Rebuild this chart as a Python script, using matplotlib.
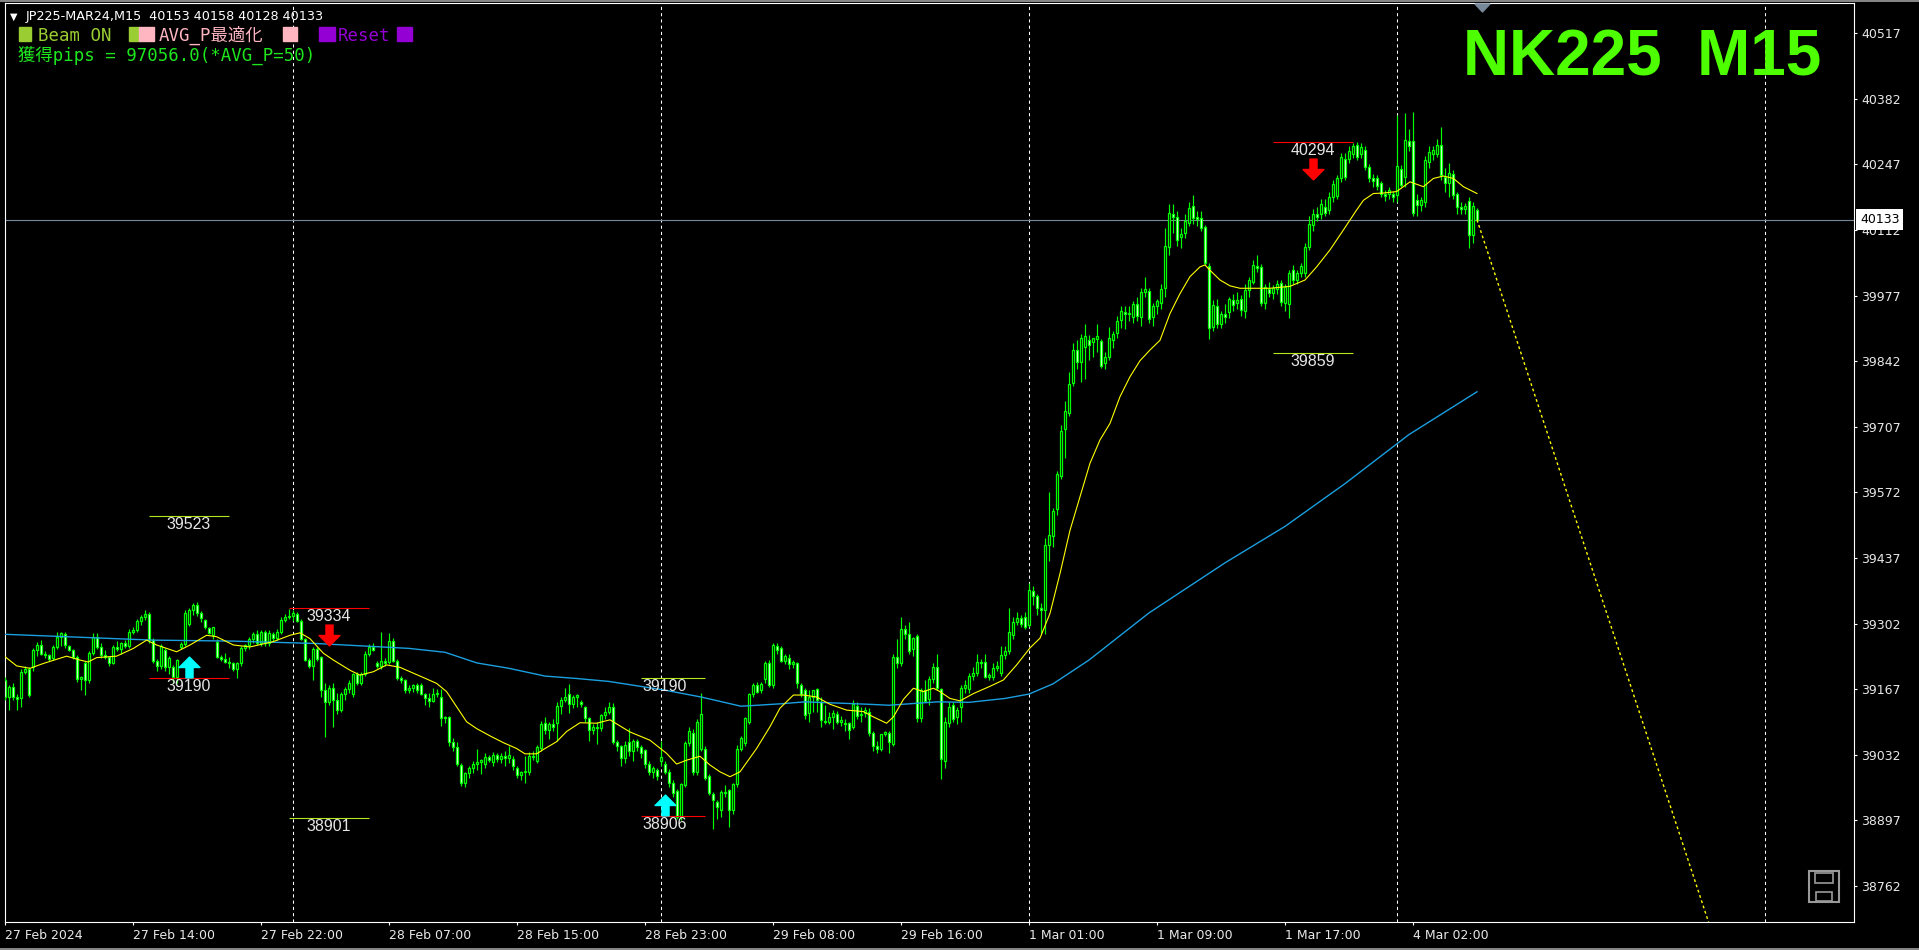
import numpy as np
import matplotlib
matplotlib.use("Agg")
import matplotlib.pyplot as plt
from matplotlib.path import Path
from matplotlib.patches import Rectangle, Polygon
from matplotlib.lines import Line2D
import matplotlib.transforms as mtransforms

W, H = 1919, 950

# ---------------- data (JP225-MAR24, M15) ----------------
opens = [
    39186, 39150, 39172, 39152, 39148, 39203, 39209, 39213, 39247, 39258,
    39240, 39237, 39232, 39254, 39275, 39280, 39256, 39248, 39234, 39188,
    39220, 39186, 39241, 39275, 39254, 39238, 39234, 39220, 39254, 39250,
    39262, 39256, 39285, 39289, 39307, 39316, 39322, 39268, 39225, 39215,
    39248, 39213, 39213, 39193, 39254, 39261, 39302, 39330, 39340, 39323,
    39310, 39292, 39278, 39265, 39234, 39230, 39224, 39220, 39209, 39220,
    39251, 39257, 39271, 39280, 39262, 39284, 39262, 39280, 39272, 39285,
    39310, 39316, 39318, 39322, 39308, 39270, 39228, 39215, 39250, 39234,
    39165, 39140, 39170, 39145, 39125, 39158, 39168, 39158, 39198, 39180,
    39198, 39240, 39254, 39220, 39214, 39226, 39222, 39266, 39226, 39190,
    39185, 39165, 39170, 39175, 39176, 39158, 39148, 39143, 39158, 39152,
    39107, 39110, 39059, 39049, 39012, 38973, 38994, 39004, 39014, 39018,
    39014, 39028, 39018, 39032, 39024, 39030, 39026, 39024, 39004, 38990,
    38996, 38996, 39030, 39020, 39046, 39097, 39083, 39095, 39097, 39132,
    39145, 39158, 39136, 39150, 39140, 39130, 39107, 39084, 39089, 39087,
    39114, 39120, 39130, 39059, 39050, 39025, 39058, 39040, 39060, 39048,
    39042, 39014, 38997, 39000, 39020, 39014, 38997, 38975, 38958, 38905,
    38970, 39056, 39077, 38997, 39045, 39045, 38988, 38951, 38935, 38918,
    38956, 38959, 38918, 38972, 39045, 39056, 39100, 39158, 39176, 39165,
    39188, 39221, 39175, 39256, 39251, 39226, 39232, 39219, 39220, 39176,
    39165, 39119, 39151, 39167, 39141, 39101, 39100, 39109, 39116, 39100,
    39098, 39097, 39090, 39133, 39114, 39119, 39120, 39077, 39050, 39045,
    39075, 39076, 39055, 39234, 39220, 39290, 39280, 39249, 39276, 39107,
    39165, 39146, 39189, 39212, 39167, 39020, 39097, 39134, 39109, 39131,
    39169, 39167, 39194, 39200, 39224, 39222, 39193, 39193, 39211, 39200,
    39238, 39246, 39278, 39306, 39313, 39315, 39300, 39370, 39358, 39335,
    39330, 39464, 39482, 39537, 39605, 39702, 39735, 39797, 39866, 39840,
    39872, 39885, 39882, 39888, 39884, 39838, 39850, 39885, 39899, 39926,
    39944, 39940, 39933, 39960, 39932, 39984, 39987, 39932, 39955, 39962,
    39992, 40077, 40145, 40138, 40098, 40105, 40127, 40161, 40138, 40136,
    40119, 40038, 39913, 39955, 39918, 39939, 39944, 39968, 39962, 39969,
    39946, 39988, 40004, 40038, 40036, 39962, 39990, 39983, 39990, 40002,
    39961, 39959, 40029, 40009, 40024, 40024, 40077, 40122, 40145, 40145,
    40160, 40154, 40179, 40182, 40218, 40259, 40257, 40269, 40287, 40269,
    40276, 40242, 40219, 40219, 40209, 40187, 40187, 40186, 40184, 40237,
    40221, 40296, 40296, 40173, 40163, 40170, 40252, 40269, 40269, 40287,
    40221, 40209, 40227, 40186, 40160, 40156, 40172, 40101, 40153,
]
highs = [
    39193, 39176, 39180, 39158, 39208, 39215, 39212, 39252, 39265, 39268,
    39246, 39240, 39258, 39285, 39285, 39284, 39258, 39250, 39238, 39195,
    39225, 39245, 39282, 39282, 39262, 39248, 39236, 39258, 39266, 39264,
    39268, 39290, 39294, 39312, 39320, 39330, 39326, 39272, 39230, 39260,
    39252, 39236, 39216, 39230, 39265, 39330, 39335, 39345, 39346, 39328,
    39312, 39295, 39296, 39270, 39238, 39242, 39234, 39222, 39222, 39255,
    39260, 39275, 39285, 39288, 39288, 39288, 39288, 39284, 39290, 39315,
    39322, 39333, 39330, 39326, 39312, 39272, 39232, 39254, 39254, 39236,
    39180, 39175, 39180, 39160, 39162, 39172, 39185, 39200, 39202, 39202,
    39245, 39260, 39262, 39225, 39285, 39232, 39282, 39272, 39230, 39195,
    39188, 39175, 39178, 39180, 39180, 39160, 39160, 39170, 39168, 39168,
    39112, 39112, 39066, 39058, 39015, 38996, 39010, 39020, 39045, 39024,
    39035, 39032, 39038, 39036, 39035, 39040, 39050, 39030, 39008, 38998,
    39030, 39038, 39040, 39052, 39102, 39110, 39100, 39105, 39140, 39150,
    39170, 39178, 39155, 39158, 39145, 39132, 39110, 39095, 39100, 39115,
    39130, 39140, 39138, 39062, 39052, 39060, 39088, 39065, 39064, 39052,
    39045, 39020, 39010, 39005, 39060, 39020, 39002, 38980, 38962, 38975,
    39060, 39090, 39085, 39105, 39159, 39050, 38992, 38955, 38940, 38960,
    38970, 38962, 38975, 39052, 39070, 39110, 39160, 39180, 39182, 39182,
    39225, 39228, 39262, 39262, 39255, 39240, 39240, 39228, 39224, 39180,
    39170, 39165, 39165, 39170, 39150, 39135, 39120, 39125, 39122, 39112,
    39105, 39100, 39145, 39140, 39130, 39130, 39128, 39080, 39060, 39075,
    39080, 39080, 39240, 39270, 39315, 39300, 39305, 39275, 39280, 39170,
    39185, 39195, 39220, 39240, 39170, 39110, 39140, 39140, 39130, 39175,
    39185, 39200, 39212, 39240, 39230, 39240, 39200, 39220, 39225, 39255,
    39255, 39335, 39315, 39325, 39320, 39325, 39385, 39380, 39362, 39345,
    39478, 39573, 39540, 39615, 39710, 39760, 39820, 39880, 39885, 39898,
    39918, 39895, 39890, 39918, 39888, 39860, 39912, 39905, 39935, 39955,
    39955, 39955, 39965, 39975, 39992, 40015, 39992, 39962, 39970, 40000,
    40115, 40165, 40165, 40150, 40115, 40145, 40170, 40184, 40150, 40150,
    40122, 40045, 39968, 39970, 39945, 39960, 39975, 39980, 39985, 39978,
    40000, 40015, 40050, 40060, 40042, 40000, 40005, 39998, 40010, 40008,
    40000, 40030, 40040, 40030, 40045, 40085, 40140, 40155, 40160, 40175,
    40175, 40190, 40215, 40225, 40270, 40270, 40285, 40290, 40292, 40290,
    40285, 40248, 40228, 40225, 40212, 40195, 40200, 40192, 40348, 40245,
    40352, 40320, 40355, 40185, 40180, 40265, 40285, 40285, 40300, 40324,
    40240, 40250, 40235, 40190, 40170, 40168, 40180, 40170, 40158,
]
lows = [
    39145, 39124, 39145, 39124, 39131, 39198, 39150, 39205, 39236, 39238,
    39232, 39225, 39228, 39250, 39256, 39252, 39245, 39230, 39182, 39165,
    39155, 39180, 39238, 39250, 39232, 39230, 39215, 39218, 39245, 39240,
    39252, 39252, 39280, 39284, 39300, 39310, 39262, 39220, 39205, 39208,
    39205, 39198, 39180, 39180, 39250, 39255, 39298, 39320, 39318, 39305,
    39290, 39280, 39270, 39232, 39225, 39220, 39210, 39205, 39190, 39215,
    39245, 39250, 39262, 39258, 39255, 39256, 39255, 39265, 39268, 39280,
    39305, 39312, 39308, 39305, 39268, 39225, 39210, 39186, 39225, 39150,
    39069, 39135, 39090, 39115, 39120, 39145, 39160, 39150, 39175, 39175,
    39195, 39235, 39245, 39210, 39208, 39215, 39218, 39222, 39185, 39180,
    39160, 39160, 39162, 39160, 39155, 39135, 39130, 39140, 39150, 39092,
    39098, 39050, 39040, 39010, 38968, 38966, 38985, 38995, 39000, 38992,
    39005, 39018, 39010, 39018, 39015, 39010, 39015, 39000, 38985, 38980,
    38975, 38990, 39022, 39016, 39040, 39075, 39065, 39080, 39060, 39115,
    39140, 39118, 39128, 39130, 39130, 39100, 39060, 39075, 39055, 39080,
    39105, 39115, 39055, 39040, 39010, 39015, 39030, 39020, 39040, 39025,
    39005, 38990, 38985, 38980, 39010, 38992, 38965, 38945, 38900, 38898,
    38965, 39050, 38990, 38990, 39040, 38980, 38950, 38880, 38900, 38905,
    38945, 38884, 38910, 38965, 39040, 39050, 39095, 39150, 39160, 39160,
    39180, 39172, 39170, 39240, 39222, 39218, 39208, 39210, 39170, 39150,
    39105, 39100, 39120, 39120, 39090, 39095, 39095, 39085, 39095, 39092,
    39080, 39065, 39085, 39105, 39100, 39110, 39070, 39040, 39035, 39040,
    39070, 39035, 39050, 39210, 39215, 39270, 39240, 39235, 39100, 39100,
    39140, 39135, 39180, 39165, 38983, 39005, 39090, 39100, 39095, 39100,
    39160, 39160, 39185, 39195, 39210, 39190, 39185, 39185, 39205, 39195,
    39230, 39240, 39270, 39300, 39295, 39290, 39295, 39340, 39320, 39280,
    39280, 39430, 39460, 39525, 39600, 39642, 39730, 39790, 39825, 39800,
    39805, 39845, 39850, 39860, 39828, 39825, 39845, 39870, 39890, 39910,
    39908, 39925, 39920, 39925, 39915, 39975, 39920, 39915, 39940, 39950,
    39975, 40060, 40105, 40080, 40075, 40095, 40120, 40125, 40120, 40110,
    40040, 39887, 39905, 39910, 39910, 39920, 39930, 39945, 39950, 39935,
    39930, 39975, 40000, 40025, 39955, 39950, 39975, 39970, 39980, 39955,
    39945, 39930, 40000, 40000, 40015, 40015, 40070, 40110, 40130, 40135,
    40140, 40145, 40170, 40175, 40210, 40215, 40250, 40260, 40255, 40260,
    40235, 40210, 40200, 40195, 40180, 40172, 40175, 40170, 40170, 40200,
    40200, 40275, 40140, 40140, 40150, 40160, 40240, 40255, 40262, 40215,
    40190, 40180, 40175, 40145, 40145, 40145, 40074, 40085, 40128,
]
closes = [
    39150, 39172, 39152, 39146, 39203, 39209, 39155, 39247, 39258, 39240,
    39237, 39230, 39254, 39275, 39282, 39258, 39248, 39234, 39188, 39192,
    39186, 39241, 39275, 39254, 39238, 39234, 39220, 39254, 39250, 39262,
    39256, 39285, 39289, 39307, 39316, 39322, 39268, 39225, 39215, 39256,
    39213, 39232, 39193, 39227, 39261, 39324, 39330, 39340, 39323, 39313,
    39295, 39282, 39294, 39234, 39230, 39224, 39220, 39209, 39220, 39251,
    39257, 39271, 39280, 39262, 39284, 39262, 39282, 39272, 39285, 39310,
    39316, 39318, 39324, 39308, 39270, 39228, 39215, 39250, 39230, 39165,
    39140, 39170, 39145, 39125, 39158, 39168, 39180, 39198, 39180, 39198,
    39240, 39254, 39248, 39214, 39226, 39220, 39266, 39226, 39190, 39185,
    39165, 39170, 39175, 39165, 39158, 39148, 39143, 39158, 39160, 39107,
    39110, 39059, 39049, 39014, 38973, 38994, 39004, 39014, 39018, 39021,
    39028, 39022, 39032, 39024, 39030, 39026, 39032, 39008, 38990, 38996,
    38998, 39030, 39027, 39049, 39095, 39083, 39095, 39090, 39132, 39145,
    39152, 39136, 39150, 39155, 39136, 39107, 39084, 39089, 39087, 39114,
    39120, 39130, 39059, 39050, 39025, 39052, 39040, 39060, 39048, 39035,
    39014, 38997, 39005, 38988, 39028, 38997, 38975, 38954, 38905, 38972,
    39056, 39082, 38997, 39100, 39116, 38984, 38954, 38939, 38924, 38956,
    38954, 38918, 38972, 39045, 39066, 39107, 39158, 39176, 39162, 39177,
    39221, 39175, 39258, 39248, 39226, 39235, 39219, 39223, 39179, 39158,
    39114, 39151, 39165, 39145, 39103, 39099, 39109, 39118, 39100, 39104,
    39096, 39084, 39136, 39112, 39116, 39125, 39077, 39050, 39043, 39074,
    39078, 39059, 39234, 39220, 39290, 39280, 39246, 39273, 39107, 39165,
    39143, 39189, 39213, 39169, 39024, 39100, 39131, 39105, 39125, 39169,
    39175, 39194, 39200, 39224, 39220, 39193, 39196, 39210, 39215, 39238,
    39245, 39285, 39306, 39314, 39301, 39296, 39372, 39358, 39335, 39330,
    39464, 39485, 39533, 39610, 39698, 39739, 39795, 39866, 39840, 39889,
    39893, 39876, 39889, 39893, 39832, 39850, 39889, 39898, 39924, 39946,
    39940, 39942, 39959, 39935, 39984, 39990, 39929, 39955, 39965, 39990,
    40079, 40146, 40139, 40092, 40103, 40130, 40158, 40136, 40134, 40117,
    40043, 39911, 39957, 39918, 39939, 39933, 39969, 39957, 39968, 39948,
    39988, 40008, 40039, 40033, 39962, 39994, 39983, 39992, 40001, 39964,
    39994, 40023, 40009, 40023, 40038, 40077, 40125, 40145, 40139, 40165,
    40147, 40180, 40206, 40218, 40263, 40221, 40275, 40285, 40263, 40282,
    40242, 40218, 40213, 40202, 40187, 40182, 40194, 40179, 40243, 40204,
    40297, 40285, 40146, 40163, 40173, 40256, 40273, 40276, 40287, 40225,
    40209, 40230, 40184, 40160, 40156, 40161, 40101, 40161, 40133,
]

# yellow (fast) moving average: bar index / price
fast_ma_bar = [0, 2.9, 6.25, 9.6, 15.4, 18.75, 20.8, 22.9, 27.9, 32.1, 35.4, 37.9,
               42.9, 46.25, 50.4, 52.9, 57.1, 61.25, 67.1, 71.25, 73.75, 76.25,
               79.6, 82.1, 86.25, 88.75, 92.1, 95.4, 98.75, 101.25, 104.6, 107.9,
               110.4, 112.9, 115.4, 117.9, 121.25, 124.6, 127.9, 130, 132.9, 134.6,
               137.9, 140.4, 143.75, 147.9, 151.25, 156.25, 161.25, 165.4, 167.9,
               170.4, 173.75, 176.25, 178.75, 181.25, 183.75, 187.9, 191.25, 193.75,
               197.1, 199.6, 202.9, 206.25, 210.4, 214.6, 217.1, 220.4, 222.1, 224.6,
               227.1, 229.6, 232.1, 233.75, 236.25, 238.75, 242.1, 246.25, 249.6,
               252.9, 256.25, 258.75, 261.25, 263.75, 266.25, 268.75, 271.25, 273.75,
               276.25, 278.75, 281.25, 283.75, 286.25, 288.75, 291.25, 293.75, 296.25,
               298.75, 300, 301.25, 303.75, 306.25, 308.75, 311.25, 316.25, 321.25,
               325, 327.9, 331.25, 334.6, 337.9, 339.6, 342.1, 344.6, 347.9, 351.25,
               354.6, 357.1, 359.6, 362.1, 364.6, 368]
fast_ma_val = [39234, 39215, 39210, 39220, 39235, 39227, 39223, 39232, 39235, 39251,
               39268, 39258, 39244, 39258, 39278, 39275, 39258, 39254, 39265, 39278,
               39283, 39271, 39241, 39227, 39206, 39196, 39203, 39217, 39212, 39203,
               39191, 39179, 39162, 39131, 39100, 39086, 39071, 39057, 39045, 39034,
               39034, 39043, 39059, 39080, 39098, 39097, 39104, 39079, 39062, 39035,
               39013, 39021, 39029, 39011, 38997, 38987, 38997, 39045, 39090, 39128,
               39155, 39155, 39151, 39136, 39124, 39121, 39110, 39097, 39110, 39146,
               39169, 39162, 39169, 39162, 39148, 39143, 39158, 39173, 39186, 39217,
               39252, 39272, 39323, 39405, 39494, 39563, 39632, 39680, 39714, 39769,
               39810, 39843, 39865, 39885, 39940, 39981, 40016, 40036, 40040, 40029,
               40009, 39997, 39992, 39992, 39992, 39996, 40009, 40036, 40071, 40112,
               40153, 40173, 40187, 40188, 40191, 40211, 40201, 40218, 40223, 40218,
               40201, 40187]

# blue (slow) moving average
slow_ma_bar = [0, 37, 57, 78, 101, 110, 118, 126, 135, 143, 151, 165, 174, 184, 194,
               200, 216, 221, 233, 241, 250, 256, 262, 271, 286, 305, 320, 335, 351, 368]
slow_ma_val = [39280, 39268, 39266, 39261, 39251, 39243, 39221, 39210, 39194, 39189,
               39183, 39165, 39151, 39132, 39137, 39141, 39136, 39134, 39141, 39140,
               39148, 39157, 39178, 39227, 39324, 39427, 39502, 39590, 39691, 39779]

# projection line from the last bar
proj_bar = [368, 426]
proj_val = [40133, 38685]

price_ticks = [40517, 40382, 40247, 40112, 39977, 39842, 39707, 39572,
               39437, 39302, 39167, 39032, 38897, 38762]
time_bars = [0, 32, 64, 96, 128, 160, 192, 224, 256, 288, 320, 352]
time_labels = ['27 Feb 2024', '27 Feb 14:00', '27 Feb 22:00', '28 Feb 07:00',
               '28 Feb 15:00', '28 Feb 23:00', '29 Feb 08:00', '29 Feb 16:00',
               '1 Mar 01:00', '1 Mar 09:00', '1 Mar 17:00', '4 Mar 02:00']
day_sep_bars = [72, 164, 256, 348, 440]
last_price = 40133

# signal boxes: level lines and their labels
level_val = [39523, 39190, 39334, 38901, 39190, 38906, 40294, 39859]
level_from = [36, 36, 71, 71, 159, 159, 317, 317]
level_to = [56, 56, 91, 91, 175, 175, 337, 337]
level_red = [False, True, True, False, False, True, True, False]
label_bar = [46, 46, 81, 81, 165, 165, 327, 327]

arrow_bar = [46, 81, 165, 327]
arrow_val = [39190, 39334, 38906, 40294]
arrow_up = [True, False, True, False]

# ---------------- figure ----------------
def fx(px):
    return px / W

def fy(py):
    return 1 - py / H

fig = plt.figure(figsize=(W / 100, H / 100), dpi=100, facecolor='black')
ax = fig.add_axes([fx(5), fy(922), (1854 - 5) / W, (922 - 3) / H])
ax.set_facecolor('black')
ax.set_xlim(0, 462.25)
ax.set_ylim(38688, 40579)

for s in ax.spines.values():
    s.set_color('white')
    s.set_linewidth(0.8)

# day separators and bid line
for b in day_sep_bars:
    ax.axvline(b, color='white', lw=0.75, ls=(0, (3, 3)), zorder=1)
ax.axhline(last_price, color='#778899', lw=0.8, zorder=1)

# candles
o = np.array(opens, float)
h = np.array(highs, float)
l = np.array(lows, float)
c = np.array(closes, float)
x = np.arange(len(c))
h = np.maximum(h, np.maximum(o, c))
l = np.minimum(l, np.minimum(o, c))
bull = c >= o
ax.vlines(x, l, h, color='#00ff00', lw=0.85, zorder=3)
body_lo = np.minimum(o, c)
body_h = np.maximum(np.abs(c - o), 1.5)
ax.bar(x, body_h, bottom=body_lo, width=0.55,
       color=np.where(bull, 'black', 'white'), edgecolor='#00ff00',
       linewidth=0.9, zorder=4)

# moving averages
ax.plot(slow_ma_bar, slow_ma_val, color='#1a9fe0', lw=1.0, zorder=5)
ax.plot(fast_ma_bar, fast_ma_val, color='#ffff00', lw=0.8, zorder=5)
ax.plot(proj_bar, proj_val, color='#ffff00', lw=1.0, ls=(0, (2, 2)), zorder=5)

# level lines + labels
for v, a, b, red in zip(level_val, level_from, level_to, level_red):
    ax.hlines(v, a, b, colors='#ff0000' if red else '#b4e61e', lw=0.8, zorder=6)
below = mtransforms.offset_copy(ax.transData, fig=fig, x=0, y=-1, units='dots')
for v, b in zip(level_val, label_bar):
    ax.text(b, v, str(v), transform=below, ha='center', va='top',
            color='#e6e6e6', fontsize=11.5, family='Liberation Sans', zorder=7)

# signal arrows
up_path = Path([(0, 0.5), (0.5, 0.0), (0.17, 0.0), (0.17, -0.5), (-0.17, -0.5),
                (-0.17, 0.0), (-0.5, 0.0), (0, 0.5)],
               [Path.MOVETO] + [Path.LINETO] * 6 + [Path.CLOSEPOLY])
down_path = Path(up_path.vertices * [1, -1], up_path.codes)
for b, v, up in zip(arrow_bar, arrow_val, arrow_up):
    off = mtransforms.offset_copy(ax.transData, fig=fig, x=0,
                                  y=11 if up else -27, units='dots')
    ax.plot([b], [v], transform=off, marker=up_path if up else down_path,
            markersize=15, color='#00ffff' if up else '#ff0000',
            linestyle='none', zorder=8)

# axes ticks
ax.yaxis.tick_right()
ax.set_yticks(price_ticks)
ax.set_yticklabels([str(p) for p in price_ticks])
ax.set_xticks(time_bars)
ax.set_xticklabels(time_labels, ha='left')
ax.tick_params(axis='both', colors='white', labelcolor='#e8e8e8', length=2.5,
               width=0.8, labelsize=9, direction='out')
ax.tick_params(axis='y', pad=2.8)
ax.tick_params(axis='x', pad=2.5)

# current price tag
ax.text(1.0 + 6 / 1849, last_price, str(last_price), transform=ax.get_yaxis_transform(),
        ha='left', va='center', color='black', fontsize=9, clip_on=False,
        bbox=dict(boxstyle='square,pad=0.3', fc='white', ec='none'), zorder=10)

# header texts
fig.text(fx(10), fy(20), '\u25bc', color='white', fontsize=7, va='baseline')
fig.text(fx(26), fy(20), 'JP225-MAR24,M15  40153 40158 40128 40133',
         color='white', fontsize=9.2, va='baseline')

mono = ['DejaVu Sans Mono', 'Noto Sans CJK JP']
for x0, x1, col in [(19, 31, '#9acd32'), (129, 139, '#9acd32'), (139, 154, '#ffb6c1'),
                    (283, 297, '#ffb6c1'), (319, 335, '#9400d3'), (397, 412, '#9400d3')]:
    fig.add_artist(Rectangle((fx(x0), fy(41)), (x1 - x0) / W, 14 / H,
                             transform=fig.transFigure, color=col))
fig.text(fx(38), fy(41), 'Beam ON', color='#9acd32', fontsize=12.5, family=mono, va='baseline')
fig.text(fx(159), fy(41), 'AVG_P最適化', color='#ffb6c1', fontsize=12.5, family=mono, va='baseline')
fig.text(fx(338), fy(41), 'Reset', color='#9400d3', fontsize=12.5, family=mono, va='baseline')
fig.text(fx(18), fy(61), '獲得pips = 97056.0(*AVG_P=50)', color='#1ee61e',
         fontsize=12.5, family=mono, va='baseline')

fig.text(fx(1463), fy(75), 'NK225  M15', color='#4dff00', fontsize=46,
         fontweight='bold', family='Liberation Sans', va='baseline')

# chart-shift marker
fig.add_artist(Polygon([(fx(1475), fy(4)), (fx(1490), fy(4)), (fx(1482.5), fy(12))],
                       closed=True, transform=fig.transFigure, color='#778899'))

# save icon (bottom right)
fig.add_artist(Rectangle((fx(1809), fy(902)), 30 / W, 31 / H, transform=fig.transFigure,
                         fill=False, ec='#9a9a9a', lw=1.5))
fig.add_artist(Rectangle((fx(1815), fy(883)), 18 / W, 10 / H, transform=fig.transFigure,
                         fill=False, ec='#9a9a9a', lw=1.2))
fig.add_artist(Rectangle((fx(1816), fy(901)), 16 / W, 9 / H, transform=fig.transFigure,
                         fill=False, ec='#9a9a9a', lw=1.2))

# window edges
fig.add_artist(Line2D([0, 1], [fy(0.8)] * 2, transform=fig.transFigure, color='#a0a0a0', lw=1.2))
fig.add_artist(Line2D([0, 1], [fy(949.2)] * 2, transform=fig.transFigure, color='#a0a0a0', lw=1.2))

fig.savefig('out.png', dpi=100, facecolor='black')
